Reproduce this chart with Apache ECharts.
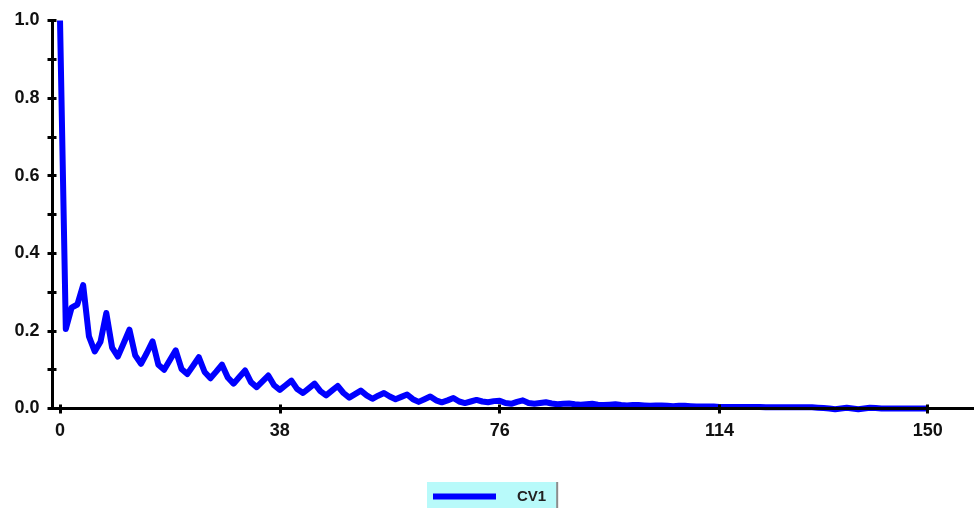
<!DOCTYPE html>
<html>
<head>
<meta charset="utf-8">
<script src="https://cdn.jsdelivr.net/npm/echarts@6/dist/echarts.min.js"></script>
<style>
  html, body { margin: 0; padding: 0; background: #fff; }
  #chart { width: 974px; height: 508px; }
</style>
</head>
<body>
<div id="chart"></div>
<script>
  // values, one per lag 0..150
  var lags = [];
  for (var i = 0; i <= 150; i++) lags.push(i);

  var cv1 = [
    1.000, 0.205, 0.260, 0.268, 0.318, 0.186, 0.147, 0.172, 0.246, 0.157,
    0.134, 0.168, 0.203, 0.137, 0.115, 0.143, 0.173, 0.113, 0.100, 0.125,
    0.150, 0.102, 0.089, 0.110, 0.132, 0.094, 0.078, 0.095, 0.113, 0.080,
    0.064, 0.081, 0.098, 0.068, 0.055, 0.070, 0.085, 0.060, 0.048, 0.060,
    0.072, 0.050, 0.040, 0.052, 0.064, 0.045, 0.034, 0.046, 0.058, 0.040,
    0.028, 0.037, 0.046, 0.034, 0.025, 0.033, 0.040, 0.031, 0.024, 0.030,
    0.036, 0.024, 0.017, 0.024, 0.031, 0.021, 0.016, 0.021, 0.027, 0.018,
    0.014, 0.018, 0.022, 0.018, 0.016, 0.019, 0.020, 0.014, 0.012, 0.017,
    0.021, 0.014, 0.012, 0.014, 0.016, 0.013, 0.011, 0.012, 0.013, 0.011,
    0.010, 0.011, 0.012, 0.010, 0.009, 0.010, 0.011, 0.009, 0.008, 0.009,
    0.009, 0.008, 0.007, 0.008, 0.008, 0.007, 0.006, 0.007, 0.007, 0.006,
    0.005, 0.005, 0.005, 0.005, 0.004, 0.004, 0.004, 0.004, 0.004, 0.004,
    0.004, 0.004, 0.003, 0.003, 0.003, 0.003, 0.003, 0.003, 0.003, 0.003,
    0.003, 0.002, 0.001, 0.000, -0.002, 0.000, 0.002, 0.000, -0.002, 0.000,
    0.002, 0.001, 0.000, 0.000, 0.000, 0.000, 0.000, 0.000, 0.000, 0.000,
    0.000
  ];

  var xTicks = [0, 38, 76, 114, 150];
  var yLabels = [0, 0.2, 0.4, 0.6, 0.8, 1.0];
  var seriesName = 'CV1';

  var font = "'Liberation Sans', Arial, sans-serif";
  var points = lags.map(function (x, k) { return [x, cv1[k]]; });

  var chart = echarts.init(document.getElementById('chart'));
  chart.setOption({
    animation: false,
    grid: { left: 52.5, right: 0, top: 20.5, bottom: 99.5, containLabel: false },
    legend: {
      data: [seriesName],
      left: 427,
      top: 482,
      padding: [7, 10, 7, 6],
      backgroundColor: '#b8fafa',
      shadowColor: 'rgba(0,0,0,0.45)',
      shadowOffsetX: 2,
      shadowBlur: 0,
      icon: 'rect',
      itemWidth: 63,
      itemHeight: 6,
      textStyle: {
        fontFamily: font, fontSize: 15, fontWeight: 'bold', color: '#222',
        padding: [0, 0, 0, 16]
      }
    },
    xAxis: [
      {
        type: 'value', min: -1.3, max: 158, z: 5,
        axisLine: { onZero: false, lineStyle: { color: '#000', width: 3 } },
        axisTick: { customValues: xTicks, length: 5, lineStyle: { color: '#000', width: 3 } },
        axisLabel: {
          customValues: xTicks, margin: 14,
          fontFamily: font, fontSize: 18, fontWeight: 'bold', color: '#111'
        },
        splitLine: { show: false }
      },
      {
        type: 'value', min: -1.3, max: 158, position: 'bottom', offset: 0, z: 5,
        axisLine: { show: false },
        axisTick: { customValues: xTicks, inside: true, length: 4, lineStyle: { color: '#000', width: 3 } },
        axisLabel: { show: false },
        splitLine: { show: false }
      }
    ],
    yAxis: [
      {
        type: 'value', min: 0, max: 1, interval: 0.1, z: 5,
        axisLine: { show: true, onZero: false, lineStyle: { color: '#000', width: 3 } },
        axisTick: { show: true, length: 5, lineStyle: { color: '#000', width: 3 } },
        axisLabel: {
          customValues: yLabels, margin: 13,
          formatter: function (v) { return v.toFixed(1); },
          fontFamily: font, fontSize: 18, fontWeight: 'bold', color: '#111'
        },
        splitLine: { show: false }
      },
      {
        type: 'value', min: 0, max: 1, interval: 0.1, position: 'left', offset: 0, z: 5,
        axisLine: { show: false, onZero: false },
        axisTick: { show: true, inside: true, length: 4, lineStyle: { color: '#000', width: 3 } },
        axisLabel: { show: false },
        splitLine: { show: false }
      }
    ],
    series: [
      {
        name: seriesName,
        type: 'line',
        data: points,
        xAxisIndex: 0,
        yAxisIndex: 0,
        showSymbol: false,
        clip: false,
        z: 2,
        itemStyle: { color: '#0000ff' },
        lineStyle: { color: '#0000ff', width: 6, join: 'round' }
      }
    ]
  });
</script>
</body>
</html>
